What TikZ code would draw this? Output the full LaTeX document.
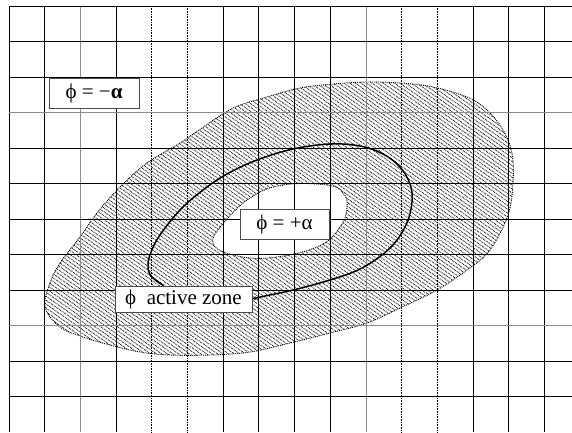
\documentclass[tikz,border=0pt]{standalone}
\usepackage{fontspec}
\setmainfont{Liberation Serif}
\usetikzlibrary{arrows.meta,patterns.meta}
\begin{document}
\begin{tikzpicture}[x=1bp, y=-1bp,
  gridln/.style={black, line width=1bp},
  gridlt/.style={black!45, line width=1bp},
  griddot/.style={black, line width=1bp, dash pattern=on 1bp off 0.6bp},
  zone/.style={pattern={Lines[angle=-35,distance=3.2bp,line width=0.9bp]}, pattern color=black!85},
  rim/.style={black, line width=0.9bp, densely dotted},
  lbl/.style={draw=black!70, fill=white, line width=0.6bp, inner sep=0pt, font=\fontsize{21bp}{25bp}\selectfont},
  arr/.style={-{Stealth[length=4bp,width=4bp]}, line width=1.5bp}
]
\useasboundingbox (0,0) rectangle (572,432);
% hatched zone with its hole
\draw[rim, zone, even odd rule]
  plot[smooth cycle, tension=0.6] coordinates {(45,307) (50,283) (60,263) (80,237) (97,213) (120,187) (147,163) (180,143)
    (202,128) (233,108) (267,97) (300,88) (333,84) (367,82) (400,83) (433,87) (467,97) (487,110) (503,130)
    (512,153) (513,183) (508,215) (490,250) (467,270) (437,290) (400,308) (367,323) (330,333) (290,343)
    (250,352) (210,355) (170,355) (140,352) (110,345) (83,337) (60,327)}
  plot[smooth cycle, tension=0.7] coordinates {(213,243) (222,225) (250,198) (283,185) (327,185) (343,193) (347,207)
    (340,227) (317,247) (267,258) (230,254)};
% grid
\foreach \k/\s in {0/gridln,1/gridln,2/gridlt,3/gridln,4/griddot,5/griddot,6/gridln,7/gridln,
                   8/gridln,9/gridln,10/gridlt,11/griddot,12/griddot,13/gridln,14/gridln,15/gridln}
  \draw[\s] (9+\k*35.7,6) -- (9+\k*35.7,432);
\foreach \k/\s in {0/gridln,1/gridln,2/gridln,3/gridlt,4/gridln,5/gridln,
                   6/gridln,7/gridln,8/gridln,9/gridlt,10/gridln,11/gridln}
  \draw[\s] (9,6+\k*35.5) -- (572,6+\k*35.5);
% labels
\node[lbl, minimum width=90bp, minimum height=30bp] (minus) at (94,93) {ϕ = −\textbf{α}};
\node[lbl, minimum width=89bp, minimum height=30bp] (plus) at (284.5,224) {ϕ = +α};
\node[lbl, minimum width=137bp, minimum height=26bp] (act) at (183.5,299) {ϕ\ \ active zone};
% front line
\draw[arr] plot[smooth, tension=0.6] coordinates {([xshift=-20bp]act.north) (151,276) (148,265) (151,252) (160,235)
  (180,210) (203,190) (227,174) (257,160) (293,149) (330,144) (360,146) (383,154) (400,167) (410,184)
  (412,202) (406,225) (390,248) (362,268) (330,280) (293,290) (265,296) (act.east)};
\end{tikzpicture}
\end{document}
